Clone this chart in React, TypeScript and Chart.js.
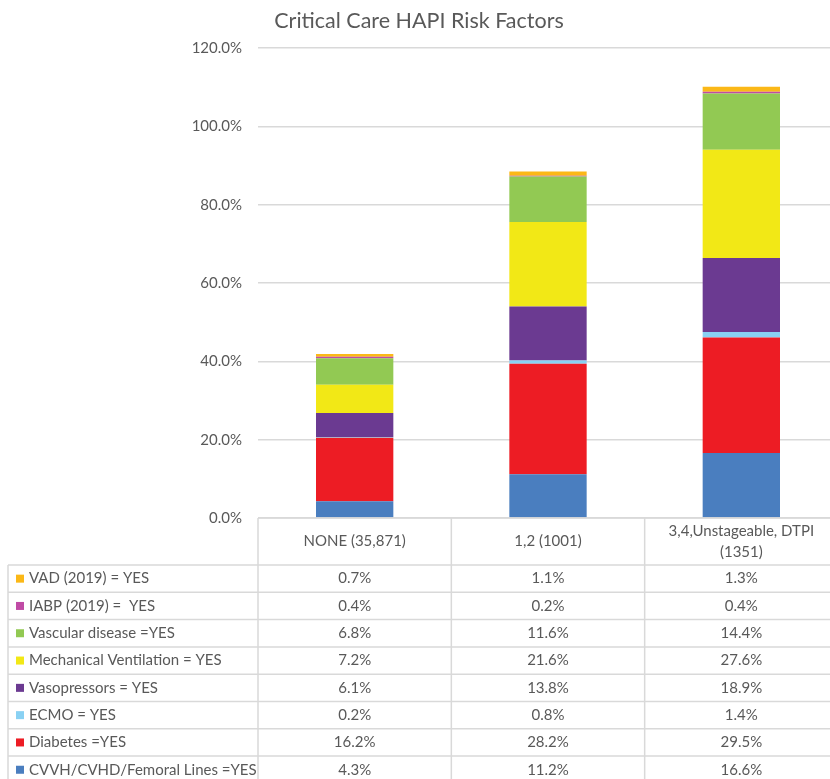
import React, { useEffect, useRef } from "react";
import { Chart, registerables } from "chart.js";

Chart.register(...registerables);

const TITLE = "Critical Care HAPI Risk Factors";
const categories = ["NONE (35,871)", "1,2 (1001)", "3,4,Unstageable, DTPI (1351)"];
const categoryLines = [["NONE (35,871)"], ["1,2 (1001)"], ["3,4,Unstageable, DTPI", "(1351)"]];

const seriesNames = [
  "CVVH/CVHD/Femoral Lines =YES",
  "Diabetes =YES",
  "ECMO = YES",
  "Vasopressors = YES",
  "Mechanical Ventilation = YES",
  "Vascular disease =YES",
  "IABP (2019) =  YES",
  "VAD (2019) = YES",
];
const cvvh = [4.3, 11.2, 16.6];
const diabetes = [16.2, 28.2, 29.5];
const ecmo = [0.2, 0.8, 1.4];
const vasopressors = [6.1, 13.8, 18.9];
const mechVent = [7.2, 21.6, 27.6];
const vascular = [6.8, 11.6, 14.4];
const iabp = [0.4, 0.2, 0.4];
const vad = [0.7, 1.1, 1.3];
const seriesValues = [cvvh, diabetes, ecmo, vasopressors, mechVent, vascular, iabp, vad];
const seriesColors = ["#4a7ebf", "#ed1c24", "#89d1f3", "#6b3a91", "#f2e816", "#92c953", "#c04ba5", "#fbb817"];
const yTicks = [0, 20, 40, 60, 80, 100, 120];

const FONT = "Lato, 'Open Sans', sans-serif";
const TEXT = "#595959";
const LINE = "#d9d9d9";

const tablePlugin = {
  id: "dataTable",
  afterDraw(chart: any) {
    const ctx = chart.ctx;
    const area = chart.chartArea;
    const xs = chart.scales.x;
    const n = categories.length;
    const colW = area.width / n;
    const left = area.left;
    const top = area.bottom;
    const headerH = 47;
    const rowH = 27.3;
    const labelLeft = 8;
    const rows = seriesNames.length;
    const rowsTop = top + headerH;
    const bottom = rowsTop + rowH * rows;

    ctx.save();
    // title
    ctx.fillStyle = TEXT;
    ctx.font = `21.5px ${FONT}`;
    ctx.textAlign = "center";
    ctx.textBaseline = "middle";
    ctx.fillText(TITLE, 419, 21);

    ctx.strokeStyle = LINE;
    ctx.lineWidth = 1.5;
    ctx.beginPath();
    ctx.moveTo(left, top);
    ctx.lineTo(chart.width, top);
    for (let r = 0; r <= rows; r++) {
      const y = rowsTop + r * rowH;
      ctx.moveTo(labelLeft, y);
      ctx.lineTo(chart.width, y);
    }
    ctx.moveTo(labelLeft, rowsTop);
    ctx.lineTo(labelLeft, bottom);
    for (let c = 0; c <= n; c++) {
      const x = left + c * colW;
      ctx.moveTo(x, top);
      ctx.lineTo(x, bottom);
    }
    ctx.stroke();

    ctx.fillStyle = TEXT;
    ctx.font = `15px ${FONT}`;
    ctx.textBaseline = "middle";
    ctx.textAlign = "center";
    for (let c = 0; c < n; c++) {
      const cx = xs.getPixelForValue(c);
      const lines = categoryLines[c];
      const lh = 21;
      const startY = top + headerH / 2 - ((lines.length - 1) * lh) / 2;
      lines.forEach((t, i) => ctx.fillText(t, cx, startY + i * lh));
    }
    for (let r = 0; r < rows; r++) {
      const si = rows - 1 - r;
      const cy = rowsTop + r * rowH + rowH / 2;
      ctx.fillStyle = seriesColors[si];
      ctx.fillRect(16, cy - 4, 8, 8);
      ctx.fillStyle = TEXT;
      ctx.textAlign = "left";
      ctx.fillText(seriesNames[si], 29, cy);
      ctx.textAlign = "center";
      for (let c = 0; c < n; c++) {
        ctx.fillText(`${seriesValues[si][c].toFixed(1)}%`, xs.getPixelForValue(c), cy);
      }
    }
    ctx.restore();
  },
};

export default function App() {
  const ref = useRef<HTMLCanvasElement>(null);
  useEffect(() => {
    if (!ref.current) return;
    const chart = new Chart(ref.current, {
      type: "bar",
      data: {
        labels: categories,
        datasets: seriesNames.map((name, i) => ({
          label: name,
          data: seriesValues[i],
          backgroundColor: seriesColors[i],
          borderWidth: 0,
          barPercentage: 0.4,
          categoryPercentage: 1,
        })),
      },
      options: {
        responsive: false,
        animation: false,
        layout: { padding: { top: 48, bottom: 261, left: 0, right: 0 } },
        plugins: {
          legend: { display: false },
          title: { display: false },
          tooltip: { enabled: false },
        },
        scales: {
          x: { stacked: true, display: false },
          y: {
            stacked: true,
            min: 0,
            max: 120,
            afterBuildTicks: (scale: any) => {
              scale.ticks = yTicks.map((v) => ({ value: v }));
            },
            afterFit: (scale: any) => {
              scale.width = 258;
            },
            ticks: {
              padding: 16,
              color: TEXT,
              font: { family: FONT, size: 15 },
              callback: (v: any) => `${Number(v).toFixed(1)}%`,
            },
            grid: { color: LINE, lineWidth: 1.5, drawTicks: false },
            border: { display: false },
          },
        },
      },
      plugins: [tablePlugin],
    });
    return () => chart.destroy();
  }, []);
  return (
    <div style={{ position: "fixed", left: 0, top: 0, width: 830, height: 779, overflow: "hidden", background: "#fff" }}>
      <canvas ref={ref} width={838} height={779} style={{ width: 838, height: 779, display: "block" }} />
    </div>
  );
}
